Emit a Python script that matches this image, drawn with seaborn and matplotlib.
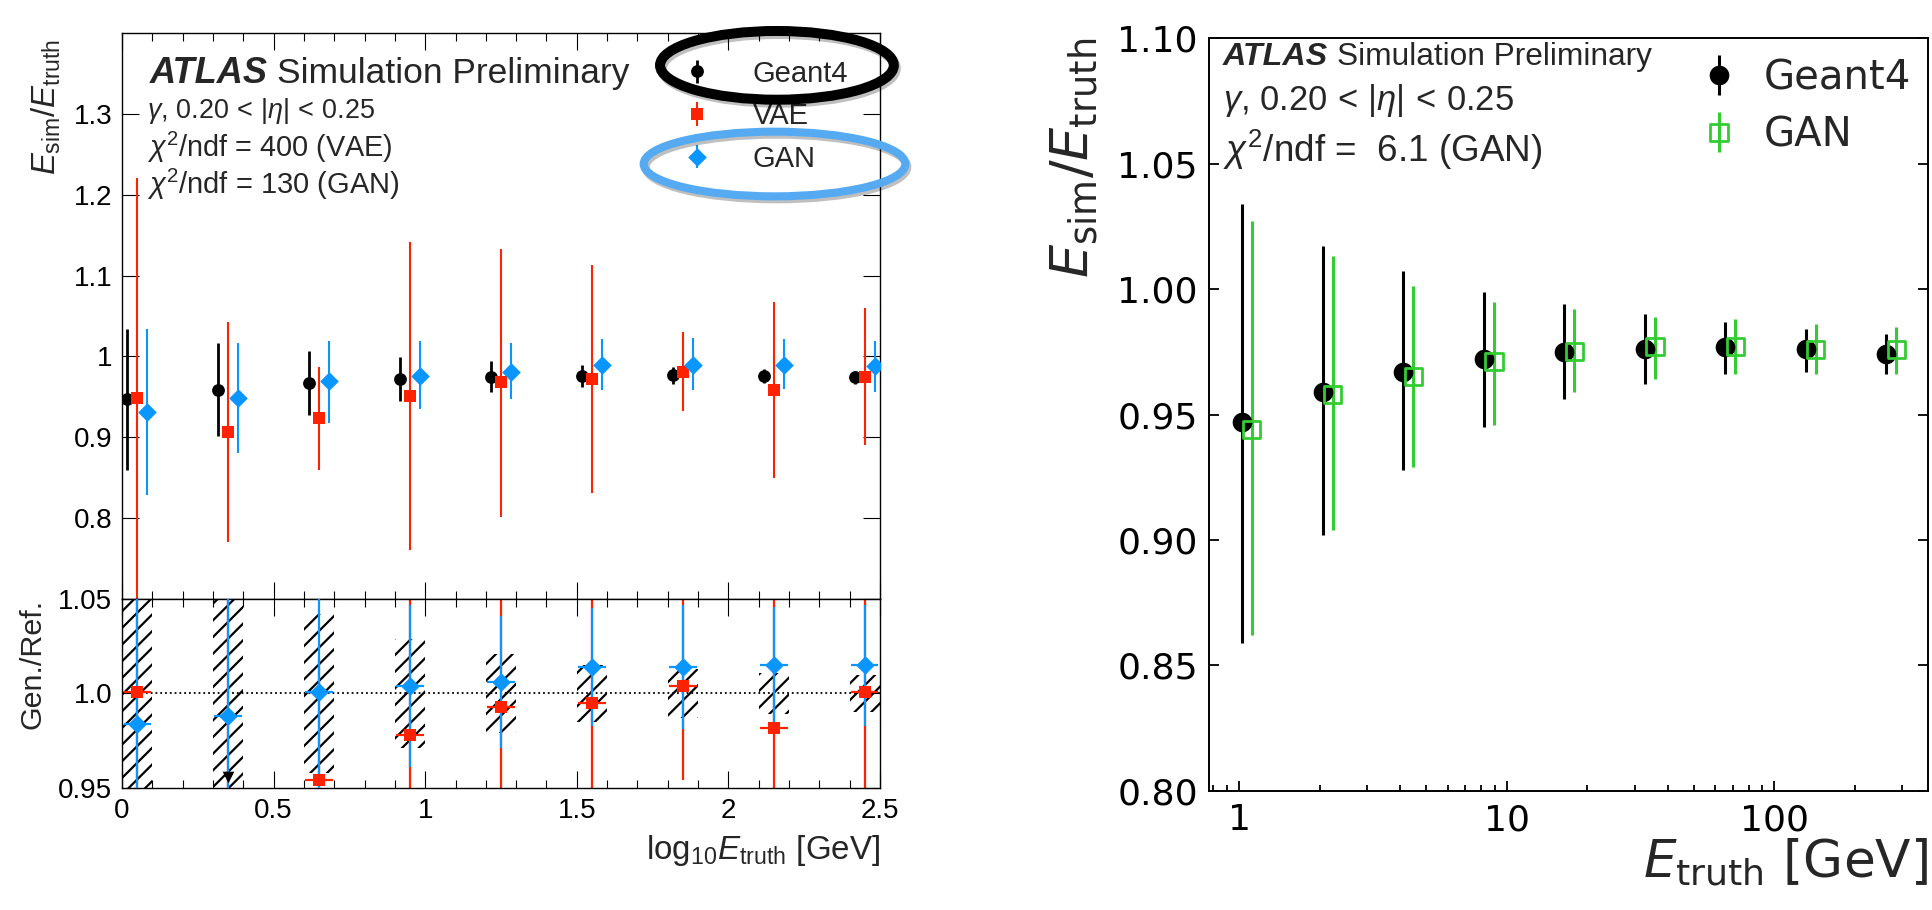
import matplotlib
matplotlib.use("Agg")
import matplotlib.pyplot as plt
from matplotlib.patches import Ellipse
from matplotlib.transforms import offset_copy
from matplotlib.ticker import MultipleLocator, LogLocator, NullFormatter
from matplotlib.legend_handler import HandlerErrorbar
from matplotlib.container import ErrorbarContainer
import numpy as np
import seaborn as sns

# ---- left panel: bins in log10(E_truth) ----
log_e_bins = [0.05, 0.35, 0.65, 0.95, 1.25, 1.55, 1.85, 2.15, 2.45]

g4_val = [0.947, 0.959, 0.967, 0.972, 0.975, 0.976, 0.977, 0.976, 0.974]
g4_lo = [0.859, 0.902, 0.928, 0.945, 0.956, 0.962, 0.966, 0.967, 0.966]
g4_hi = [1.034, 1.017, 1.007, 0.999, 0.994, 0.990, 0.987, 0.984, 0.982]

vae_val = [0.948, 0.907, 0.924, 0.951, 0.968, 0.972, 0.981, 0.958, 0.975]
vae_lo = [0.670, 0.771, 0.860, 0.761, 0.802, 0.831, 0.933, 0.850, 0.890]
vae_hi = [1.221, 1.043, 0.987, 1.141, 1.133, 1.113, 1.030, 1.067, 1.060]

gan1_val = [0.931, 0.948, 0.969, 0.976, 0.981, 0.989, 0.990, 0.990, 0.988]
gan1_lo = [0.829, 0.880, 0.918, 0.935, 0.947, 0.959, 0.958, 0.960, 0.956]
gan1_hi = [1.034, 1.017, 1.019, 1.019, 1.016, 1.021, 1.023, 1.021, 1.019]

# ratio panel (Gen./Ref.)
g4_band = [0.092, 0.060, 0.042, 0.029, 0.021, 0.015, 0.013, 0.011, 0.010]
ratio_vae = [1.001, 0.946, 0.954, 0.978, 0.993, 0.995, 1.004, 0.982, 1.001]
ratio_vae_err = [0.29, 0.14, 0.065, 0.20, 0.17, 0.145, 0.050, 0.110, 0.088]
ratio_gan = [0.984, 0.988, 1.001, 1.004, 1.006, 1.014, 1.014, 1.015, 1.015]
ratio_gan_err = [0.110, 0.070, 0.052, 0.043, 0.035, 0.031, 0.033, 0.031, 0.032]

# ---- right panel: E_truth in GeV ----
e_truth = [1.02, 2.05, 4.1, 8.2, 16.4, 32.8, 65.5, 131, 262]
gan2_val = [0.944, 0.958, 0.965, 0.971, 0.975, 0.977, 0.977, 0.976, 0.976]
gan2_lo = [0.862, 0.904, 0.929, 0.946, 0.959, 0.964, 0.966, 0.966, 0.966]
gan2_hi = [1.027, 1.013, 1.001, 0.995, 0.992, 0.989, 0.988, 0.986, 0.985]

top_yticks = [0.8, 0.9, 1.0, 1.1, 1.2, 1.3]
top_ylabels = ["0.8", "0.9", "1", "1.1", "1.2", "1.3"]
rat_yticks = [0.95, 1.0, 1.05]
rat_ylabels = ["0.95", "1.0", "1.05"]
left_xticks = [0, 0.5, 1, 1.5, 2, 2.5]
left_xlabels = ["0", "0.5", "1", "1.5", "2", "2.5"]
right_xticks = [1, 10, 100]
right_xlabels = ["1", "10", "100"]
right_yticks = [0.80, 0.85, 0.90, 0.95, 1.00, 1.05, 1.10]

BLACK, RED, BLUE, GREEN = "black", "#ff2200", "#0a96ff", "#33cc33"

sns.set_theme(style="ticks")
plt.rcParams["font.family"] = ["Liberation Sans", "DejaVu Sans"]
plt.rcParams["mathtext.fontset"] = "custom"
plt.rcParams["mathtext.rm"] = "Liberation Sans"
plt.rcParams["mathtext.it"] = "Liberation Sans:italic"
plt.rcParams["mathtext.bf"] = "Liberation Sans:bold"
plt.rcParams["hatch.linewidth"] = 1.6
plt.rcParams["axes.edgecolor"] = "black"
plt.rcParams["xtick.color"] = "black"
plt.rcParams["ytick.color"] = "black"


def err_bars(ax, x, val, lo, hi, color, lw, z):
    yerr = [np.subtract(val, lo), np.subtract(hi, val)]
    return ax.errorbar(x, val, yerr=yerr, fmt="none", ecolor=color,
                       elinewidth=lw, capsize=0, zorder=z)


def markers(ax, x, y, marker, size, color, z, open_face=False, lw=0):
    sns.scatterplot(x=x, y=y, ax=ax, marker=marker, s=size, color=color,
                    linewidth=lw, edgecolor=color, zorder=z, legend=False)
    coll = ax.collections[-1]
    if open_face:
        coll.set_facecolor("none")
        coll.set_edgecolor(color)
        coll.set_linewidth(lw)
    return coll


def ring(ax, xy, w, h, lw, color):
    # annotation ellipse with a soft drop shadow
    shadow_tr = offset_copy(ax.transData, fig=ax.figure, x=2, y=-3, units="dots")
    ax.add_patch(Ellipse(xy, w, h, fill=False, lw=lw, edgecolor="black", alpha=0.25,
                         transform=shadow_tr, clip_on=False, zorder=9))
    ax.add_patch(Ellipse(xy, w, h, fill=False, lw=lw, edgecolor=color,
                         clip_on=False, zorder=10))


fig = plt.figure(figsize=(19.32, 9.10), dpi=100)
ax_top = fig.add_axes([0.06315, 0.34176, 0.39234, 0.62198])
ax_rat = fig.add_axes([0.06315, 0.13407, 0.39234, 0.20769])
ax_r = fig.add_axes([0.62578, 0.13077, 0.37215, 0.82747])

bins = np.array(log_e_bins)
dx = 0.033

# ---------------- left, top ----------------
eb_g4 = err_bars(ax_top, bins - dx, g4_val, g4_lo, g4_hi, BLACK, 2.0, 2)
eb_vae = err_bars(ax_top, bins, vae_val, vae_lo, vae_hi, RED, 1.5, 2)
eb_gan = err_bars(ax_top, bins + dx, gan1_val, gan1_lo, gan1_hi, BLUE, 1.5, 2)
m_g4 = markers(ax_top, bins - dx, g4_val, "o", 85, BLACK, 4)
m_vae = markers(ax_top, bins, vae_val, "s", 85, RED, 4)
m_gan = markers(ax_top, bins + dx, gan1_val, "D", 90, BLUE, 4)

ax_top.set_xlim(0, 2.5)
ax_top.set_ylim(0.7, 1.4)
ax_top.set_yticks(top_yticks)
ax_top.set_yticklabels(top_ylabels)
ax_top.xaxis.set_major_locator(MultipleLocator(0.5))
ax_top.xaxis.set_minor_locator(MultipleLocator(0.1))
ax_top.tick_params(which="both", direction="in", top=True, right=True,
                   labelbottom=False, width=0.8, labelsize=20, pad=7)
ax_top.tick_params(which="major", length=12)
ax_top.tick_params(which="minor", length=6)
ax_top.set_ylabel(r"$E_{\mathrm{sim}}/E_{\mathrm{truth}}$", fontsize=22, loc="top")
ax_top.yaxis.set_label_coords(-0.078, 0.99)

fit_left = [
    (ax_top.text(0.037, 0.912, "ATLAS", transform=ax_top.transAxes, fontsize=25,
                 fontweight="bold", fontstyle="italic", va="baseline"), 118),
    (ax_top.text(0.2045, 0.912, "Simulation Preliminary", transform=ax_top.transAxes,
                 fontsize=25, va="baseline"), 352),
    (ax_top.text(0.033, 0.850, r"$\gamma$, 0.20$\,<\,$|$\eta$|$\,<\,$0.25",
                 transform=ax_top.transAxes, fontsize=19, va="baseline"), 228),
    (ax_top.text(0.033, 0.781, r"$\chi^2$/ndf = 400 (VAE)",
                 transform=ax_top.transAxes, fontsize=19, va="baseline"), 246),
    (ax_top.text(0.033, 0.716, r"$\chi^2$/ndf = 130 (GAN)",
                 transform=ax_top.transAxes, fontsize=19, va="baseline"), 253),
]

ax_top.legend(handles=[(eb_g4, m_g4), (eb_vae, m_vae), (eb_gan, m_gan)],
              labels=["Geant4", "VAE", "GAN"], loc="upper left",
              bbox_to_anchor=(0.739, 0.953), frameon=False, fontsize=21,
              handlelength=1.0, handletextpad=1.42, labelspacing=0.50,
              borderpad=0, borderaxespad=0, numpoints=1, scatterpoints=1,
              scatteryoffsets=[0.5],
              handler_map={ErrorbarContainer: HandlerErrorbar(yerr_size=0.4)})

ring(ax_top, (2.16, 1.36), 0.771, 0.085, 7.2, "black")
ring(ax_top, (2.152, 1.238), 0.863, 0.080, 5.8, "#55aaf2")

# ---------------- left, ratio ----------------
band = np.array(g4_band)
ax_rat.bar(bins, 2 * band, bottom=1 - band, width=0.1, fill=False, hatch="//",
           edgecolor="black", linewidth=0, zorder=1)
ax_rat.axhline(1.0, ls=":", color="black", lw=1.3, zorder=1.5)
rv = np.array(ratio_vae)
rg = np.array(ratio_gan)
ax_rat.errorbar(bins, rv, yerr=ratio_vae_err, xerr=0.045, fmt="none", ecolor=RED,
                elinewidth=1.6, capsize=0, zorder=2)
ax_rat.errorbar(bins, rg, yerr=ratio_gan_err, xerr=0.045, fmt="none", ecolor=BLUE,
                elinewidth=1.6, capsize=0, zorder=3)
rat_lo = 0.95
inside = rv >= rat_lo
markers(ax_rat, bins[inside], rv[inside], "s", 85, RED, 4)
markers(ax_rat, bins, rg, "D", 90, BLUE, 5)
markers(ax_rat, bins[~inside], np.full((~inside).sum(), rat_lo + 0.006), "v", 70,
        BLACK, 6)

ax_rat.set_xlim(0, 2.5)
ax_rat.set_ylim(rat_lo, 1.05)
ax_rat.set_yticks(rat_yticks)
ax_rat.set_yticklabels(rat_ylabels)
ax_rat.set_xticks(left_xticks)
ax_rat.set_xticklabels(left_xlabels)
ax_rat.xaxis.set_minor_locator(MultipleLocator(0.1))
ax_rat.tick_params(which="both", direction="in", top=True, right=True,
                   width=0.8, labelsize=20, pad=7)
ax_rat.tick_params(which="major", length=12)
ax_rat.tick_params(which="minor", length=6)
ax_rat.set_ylabel("Gen./Ref.", fontsize=20, loc="top")
ax_rat.yaxis.set_label_coords(-0.10, 1.0)
ax_rat.set_xlabel(r"log$_{10}$$E_{\mathrm{truth}}$ [GeV]", fontsize=20, loc="right")
ax_rat.xaxis.set_label_coords(1.0, -0.24)
for ax in (ax_top, ax_rat):
    for s in ax.spines.values():
        s.set_linewidth(1.0)

# ---------------- right panel ----------------
e = np.array(e_truth)
eb_g4r = err_bars(ax_r, e, g4_val, g4_lo, g4_hi, BLACK, 2.2, 2)
eb_gan2 = err_bars(ax_r, e * 1.09, gan2_val, gan2_lo, gan2_hi, GREEN, 2.2, 2)
m_g4r = markers(ax_r, e, g4_val, "o", 200, BLACK, 4)
m_gan2 = markers(ax_r, e * 1.09, gan2_val, "s", 155, GREEN, 5, open_face=True, lw=2.0)

ax_r.set_xscale("log")
ax_r.set_xlim(0.77, 375)
ax_r.set_ylim(0.80, 1.10)
ax_r.set_yticks(right_yticks)
ax_r.set_yticklabels([f"{v:.2f}" for v in right_yticks])
ax_r.set_xticks(right_xticks)
ax_r.set_xticklabels(right_xlabels)
ax_r.xaxis.set_minor_locator(LogLocator(base=10, subs=np.arange(2, 10)))
ax_r.xaxis.set_minor_formatter(NullFormatter())
ax_r.tick_params(which="both", direction="in", right=True, top=False, width=1.3,
                 labelsize=26, labelfontfamily="DejaVu Sans")
ax_r.tick_params(axis="y", pad=8)
ax_r.tick_params(axis="x", pad=9)
ax_r.tick_params(which="major", length=7)
ax_r.tick_params(which="minor", length=4)
for s in ax_r.spines.values():
    s.set_linewidth(1.4)
ax_r.set_ylabel(r"$E_{\mathrm{sim}}/E_{\mathrm{truth}}$", fontsize=40, loc="top",
                math_fontfamily="dejavusans")
ax_r.yaxis.set_label_coords(-0.152, 1.0)
ax_r.set_xlabel(r"$E_{\mathrm{truth}}$ [GeV]", fontsize=42, loc="right",
                fontfamily="DejaVu Sans", math_fontfamily="dejavusans")
ax_r.xaxis.set_label_coords(1.0, -0.06)

fit_right = [
    (ax_r.text(0.0195, 0.964, "ATLAS", transform=ax_r.transAxes, fontsize=22,
               fontweight="bold", fontstyle="italic", va="baseline"), 105),
    (ax_r.text(0.178, 0.964, "Simulation Preliminary", transform=ax_r.transAxes,
               fontsize=22, va="baseline"), 314),
    (ax_r.text(0.0195, 0.904, r"$\gamma$, 0.20$\,<\,$|$\eta$|$\,<\,$0.25",
               transform=ax_r.transAxes, fontsize=22, va="baseline"), 291),
    (ax_r.text(0.0195, 0.835, r"$\chi^2$/ndf =  6.1 (GAN)",
               transform=ax_r.transAxes, fontsize=22, va="baseline"), 319),
]

ax_r.legend(handles=[(eb_g4r, m_g4r), (eb_gan2, m_gan2)], labels=["Geant4", "GAN"],
            loc="upper left", bbox_to_anchor=(0.6815, 0.973), frameon=False,
            prop={"family": "DejaVu Sans", "size": 29}, handlelength=1.0,
            handletextpad=0.6, labelspacing=0.42, borderpad=0, borderaxespad=0,
            numpoints=1, scatterpoints=1, scatteryoffsets=[0.5])

# scale the label texts so their drawn widths match the original figure
fig.canvas.draw()
renderer = fig.canvas.get_renderer()
for txt, width_px in fit_left + fit_right:
    w = txt.get_window_extent(renderer).width
    txt.set_fontsize(txt.get_fontsize() * width_px / w)
for label, length_px in [(ax_top.yaxis.label, 136), (ax_rat.yaxis.label, 130),
                         (ax_r.yaxis.label, 240)]:
    h = label.get_window_extent(renderer).height
    label.set_fontsize(label.get_fontsize() * length_px / h)
for label, width_px in [(ax_rat.xaxis.label, 234), (ax_r.xaxis.label, 285)]:
    w = label.get_window_extent(renderer).width
    label.set_fontsize(label.get_fontsize() * width_px / w)

fig.savefig("out.png", dpi=100)
